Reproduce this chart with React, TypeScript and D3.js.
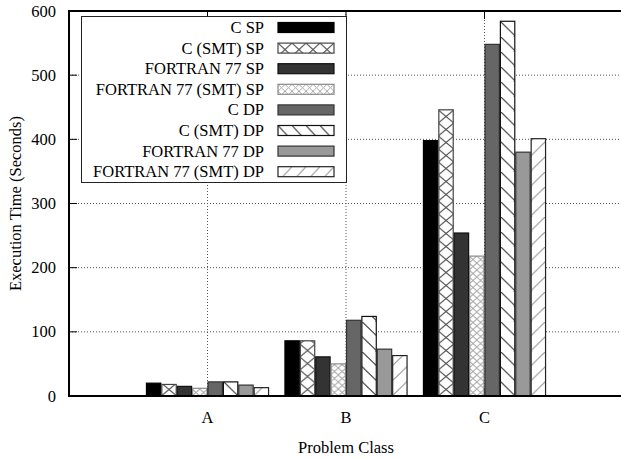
import React from "react";
import * as d3 from "d3";

const categories = ["A", "B", "C"];
const seriesNames = [
  "C SP",
  "C (SMT) SP",
  "FORTRAN 77 SP",
  "FORTRAN 77 (SMT) SP",
  "C DP",
  "C (SMT) DP",
  "FORTRAN 77 DP",
  "FORTRAN 77 (SMT) DP",
];
const cSP = [20, 86, 398];
const cSmtSP = [18, 86, 446];
const f77SP = [15, 61, 254];
const f77SmtSP = [12, 50, 218];
const cDP = [22, 118, 548];
const cSmtDP = [22, 124, 584];
const f77DP = [17, 73, 380];
const f77SmtDP = [13, 63, 401];
const seriesValues = [cSP, cSmtSP, f77SP, f77SmtSP, cDP, cSmtDP, f77DP, f77SmtDP];
const yTicks = [0, 100, 200, 300, 400, 500, 600];

type Style = { kind: "solid" | "xhatch" | "fine" | "back" | "fwd"; fill: string; stroke: string; line?: string };
const styles: Style[] = [
  { kind: "solid", fill: "#000", stroke: "#000" },
  { kind: "xhatch", fill: "#fff", stroke: "#444", line: "#555" },
  { kind: "solid", fill: "#333", stroke: "#111" },
  { kind: "fine", fill: "#fff", stroke: "#888", line: "#aaa" },
  { kind: "solid", fill: "#666", stroke: "#333" },
  { kind: "back", fill: "#fff", stroke: "#111", line: "#333" },
  { kind: "solid", fill: "#999", stroke: "#333" },
  { kind: "fwd", fill: "#fff", stroke: "#222", line: "#999" },
];

const W = 621;
const H = 460;
const FONT = "'Liberation Serif', 'Times New Roman', serif";
const FS = 16.5;

function PatternDef({ id, st, x, y, w }: { id: string; st: Style; x: number; y: number; w: number }) {
  const lc = st.line || "#000";
  if (st.kind === "xhatch") {
    const h = 13;
    return (
      <pattern id={id} patternUnits="userSpaceOnUse" x={x} y={y} width={w} height={h}>
        <rect width={w} height={h} fill="#fff" />
        <line x1={0} y1={0} x2={w} y2={h} stroke={lc} strokeWidth={1.2} />
        <line x1={w} y1={0} x2={0} y2={h} stroke={lc} strokeWidth={1.2} />
      </pattern>
    );
  }
  if (st.kind === "fine") {
    const pw = w / 2;
    const h = 7;
    return (
      <pattern id={id} patternUnits="userSpaceOnUse" x={x} y={y} width={pw} height={h}>
        <rect width={pw} height={h} fill="#fff" />
        <line x1={0} y1={0} x2={pw} y2={h} stroke={lc} strokeWidth={1} />
        <line x1={pw} y1={0} x2={0} y2={h} stroke={lc} strokeWidth={1} />
      </pattern>
    );
  }
  if (st.kind === "back") {
    const h = 15;
    return (
      <pattern id={id} patternUnits="userSpaceOnUse" x={x} y={y} width={w} height={h}>
        <rect width={w} height={h} fill="#fff" />
        <line x1={0} y1={0} x2={w} y2={h} stroke={lc} strokeWidth={1.1} />
      </pattern>
    );
  }
  const h = 15;
  return (
    <pattern id={id} patternUnits="userSpaceOnUse" x={x} y={y} width={w} height={h}>
      <rect width={w} height={h} fill="#fff" />
      <line x1={0} y1={h} x2={w} y2={0} stroke={lc} strokeWidth={1.1} />
    </pattern>
  );
}

export default function App() {
  const x = d3.scaleLinear().domain([-1, 3]).range([69, 623]);
  const y = d3.scaleLinear().domain([0, 600]).range([396, 11]);
  const nS = seriesNames.length;
  const bw = (x(1) - x(0)) / (nS + 1);
  const left = x(-1);
  const right = W;
  const top = y(600);
  const bottom = y(0);

  const bars: { id: string; x: number; y: number; w: number; h: number; st: Style }[] = [];
  categories.forEach((_, ci) => {
    seriesValues.forEach((vals, si) => {
      const bx = x(ci) + (si - nS / 2) * bw;
      const v = vals[ci];
      bars.push({ id: `bar-${ci}-${si}`, x: bx, y: y(v), w: bw, h: y(0) - y(v), st: styles[si] });
    });
  });

  const legX = 81;
  const legY = 16;
  const legW = 265;
  const legH = 166;
  const rowY = (i: number) => 27.5 + i * 20.6;
  const sampX = 278;
  const sampW = 56;
  const sampH = 10;

  return (
    <svg width={W} height={H} style={{ position: "absolute", left: 0, top: 0, background: "#fff" }} fontFamily={FONT}>
      <defs>
        {bars
          .filter((b) => b.st.kind !== "solid")
          .map((b) => (
            <PatternDef key={b.id} id={`p-${b.id}`} st={b.st} x={b.x} y={bottom} w={b.w} />
          ))}
        {styles.map((st, i) =>
          st.kind !== "solid" ? (
            <PatternDef key={`leg${i}`} id={`p-leg-${i}`} st={st} x={sampX} y={rowY(i) - sampH / 2} w={14} />
          ) : null
        )}
      </defs>
      <rect x={0} y={0} width={W} height={H} fill="#fff" />
      {/* grid */}
      {yTicks
        .filter((t) => t > 0 && t < 600)
        .map((t) => (
          <line key={`gy${t}`} x1={left} x2={right} y1={y(t)} y2={y(t)} stroke="#555" strokeWidth={1} strokeDasharray="1,2" />
        ))}
      {categories.map((c, i) => (
        <line key={`gx${c}`} x1={x(i)} x2={x(i)} y1={top} y2={bottom} stroke="#555" strokeWidth={1} strokeDasharray="1,2" />
      ))}
      {/* ticks */}
      {yTicks
        .filter((t) => t > 0 && t < 600)
        .map((t) => (
          <line key={`ty${t}`} x1={left} x2={left + 8} y1={y(t)} y2={y(t)} stroke="#000" strokeWidth={1} />
        ))}
      {categories.map((c, i) => (
        <g key={`tx${c}`}>
          <line x1={x(i)} x2={x(i)} y1={top} y2={top + 8} stroke="#000" strokeWidth={1} />
          <line x1={x(i)} x2={x(i)} y1={bottom} y2={bottom - 8} stroke="#000" strokeWidth={1} />
        </g>
      ))}
      {/* bars */}
      {bars.map((b) => (
        <rect
          key={b.id}
          x={b.x + 0.5}
          y={b.y}
          width={b.w - 1}
          height={b.h}
          fill={b.st.kind === "solid" ? b.st.fill : `url(#p-${b.id})`}
          stroke={b.st.stroke}
          strokeWidth={1.2}
        />
      ))}
      {/* legend */}
      <rect x={legX + 0.5} y={legY + 0.5} width={legW} height={legH} fill="#fff" stroke="#222" strokeWidth={1} />
      {seriesNames.map((name, i) => (
        <g key={name}>
          <text x={264} y={rowY(i)} textAnchor="end" dominantBaseline="central" fontSize={FS} fill="#000">
            {name}
          </text>
          <rect
            x={sampX}
            y={rowY(i) - sampH / 2}
            width={sampW}
            height={sampH}
            fill={styles[i].kind === "solid" ? styles[i].fill : `url(#p-leg-${i})`}
            stroke={styles[i].stroke}
            strokeWidth={1.2}
          />
        </g>
      ))}
      {/* borders */}
      <line x1={left} x2={right} y1={top} y2={top} stroke="#000" strokeWidth={2} />
      <line x1={left} x2={right} y1={bottom} y2={bottom} stroke="#000" strokeWidth={2.2} />
      <line x1={left} x2={left} y1={top - 1} y2={bottom + 1} stroke="#000" strokeWidth={2} />
      {/* tick labels */}
      {yTicks.map((t) => (
        <text key={`ly${t}`} x={56} y={y(t)} textAnchor="end" dominantBaseline="central" fontSize={FS} fill="#000">
          {t}
        </text>
      ))}
      {categories.map((c, i) => (
        <text key={`lx${c}`} x={x(i)} y={417} textAnchor="middle" dominantBaseline="central" fontSize={FS} fill="#000">
          {c}
        </text>
      ))}
      <text x={(69 + 623) / 2} y={447} textAnchor="middle" dominantBaseline="central" fontSize={FS} fill="#000">
        Problem Class
      </text>
      <text
        transform={`translate(15, ${(top + bottom) / 2}) rotate(-90)`}
        textAnchor="middle"
        dominantBaseline="central"
        fontSize={FS}
        fill="#000"
      >
        Execution Time (Seconds)
      </text>
    </svg>
  );
}
